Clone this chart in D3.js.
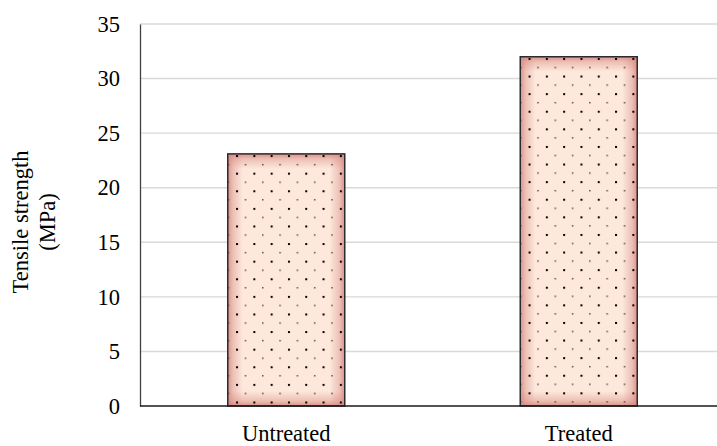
<!DOCTYPE html>
<html><head><meta charset="utf-8">
<script src="https://cdn.jsdelivr.net/npm/d3@7"></script>
<style>body{margin:0;background:#fff}svg{display:block}</style>
</head><body>
<svg id="c" width="717" height="446"></svg>
<script>
const categories = ["Untreated", "Treated"];
const values = [23.1, 32.0];
const yTicks = [0, 5, 10, 15, 20, 25, 30, 35];
const yTitle = ["Tensile strength", "(MPa)"];

const svg = d3.select("#c");
const m = {l: 140, r: 725, t: 24, b: 406};
const font = "'Liberation Serif','Times New Roman',serif";
const fs = 22.5;

const x = d3.scaleBand().domain(categories).range([m.l, m.r]).paddingInner(0.6).paddingOuter(0.3);
const y = d3.scaleLinear().domain([0, 35]).range([m.b, m.t]);

const defs = svg.append("defs");
const bw = x.bandwidth();
const bars = categories.map((c, i) => ({c, v: values[i], x: x(c), y: y(values[i]), h: y(0) - y(values[i]), i}));

const edge = "#d5837d";
const fade = 15;
bars.forEach(b => {
  const gh = defs.append("linearGradient").attr("id", "gh" + b.i).attr("gradientUnits", "userSpaceOnUse")
    .attr("x1", b.x).attr("x2", b.x + bw).attr("y1", 0).attr("y2", 0);
  const gv = defs.append("linearGradient").attr("id", "gv" + b.i).attr("gradientUnits", "userSpaceOnUse")
    .attr("x1", 0).attr("x2", 0).attr("y1", b.y).attr("y2", b.y + b.h);
  [[gh, bw], [gv, b.h]].forEach(([g, L]) => {
    const f = fade / L;
    [[0, 0.85], [f * 0.35, 0.4], [f, 0], [1 - f, 0], [1 - f * 0.35, 0.4], [1, 0.85]].forEach(([o, a]) =>
      g.append("stop").attr("offset", o).attr("stop-color", edge).attr("stop-opacity", a));
  });
  const p = defs.append("pattern").attr("id", "dots" + b.i).attr("patternUnits", "userSpaceOnUse")
    .attr("width", 17.3).attr("height", 17.6).attr("x", b.x + 8.3).attr("y", b.y + 1.2);
  p.append("rect").attr("x", 0).attr("y", 0).attr("width", 2).attr("height", 2).attr("fill", "#000");
  p.append("rect").attr("x", 8.8).attr("y", 8.9).attr("width", 1.3).attr("height", 1.3).attr("fill", "#222");
});

// grid
svg.append("g").selectAll("line").data(yTicks.filter(d => d > 0)).join("line")
  .attr("x1", m.l).attr("x2", m.r).attr("y1", d => y(d)).attr("y2", d => y(d))
  .attr("stroke", "#d9d9d9").attr("stroke-width", 1.4);

// bars
const bg = svg.append("g").selectAll("g").data(bars).join("g");
const rect = sel => sel.append("rect").attr("x", d => d.x).attr("y", d => d.y).attr("width", bw).attr("height", d => d.h);
rect(bg).attr("fill", "#fde8db");
rect(bg).attr("fill", d => `url(#gh${d.i})`);
rect(bg).attr("fill", d => `url(#gv${d.i})`);
rect(bg).attr("fill", d => `url(#dots${d.i})`);
rect(bg).attr("fill", "none").attr("stroke", "#2b2b2b").attr("stroke-width", 1.5);

// axes
const ya = svg.append("g").attr("transform", `translate(${m.l},0)`)
  .call(d3.axisLeft(y).tickValues(yTicks).tickSize(0).tickPadding(20));
ya.select(".domain").attr("stroke", "#404040").attr("stroke-width", 1.3);
ya.selectAll("text").attr("font-family", font).attr("font-size", fs).attr("fill", "#000");

const xa = svg.append("g").attr("transform", `translate(0,${m.b})`)
  .call(d3.axisBottom(x).tickSize(0).tickPadding(19));
xa.select(".domain").attr("stroke", "#1a1a1a").attr("stroke-width", 1.5).attr("d", `M${m.l},0H${m.r}`);
xa.selectAll("text").attr("font-family", font).attr("font-size", fs).attr("fill", "#000");

// y title
const t = svg.append("text").attr("transform", "translate(28,222) rotate(-90)")
  .attr("text-anchor", "middle").attr("font-family", font).attr("font-size", fs).attr("fill", "#000");
t.selectAll("tspan").data(yTitle).join("tspan").attr("x", 0).attr("y", (d, i) => i * 27).text(d => d);
</script>
</body></html>
